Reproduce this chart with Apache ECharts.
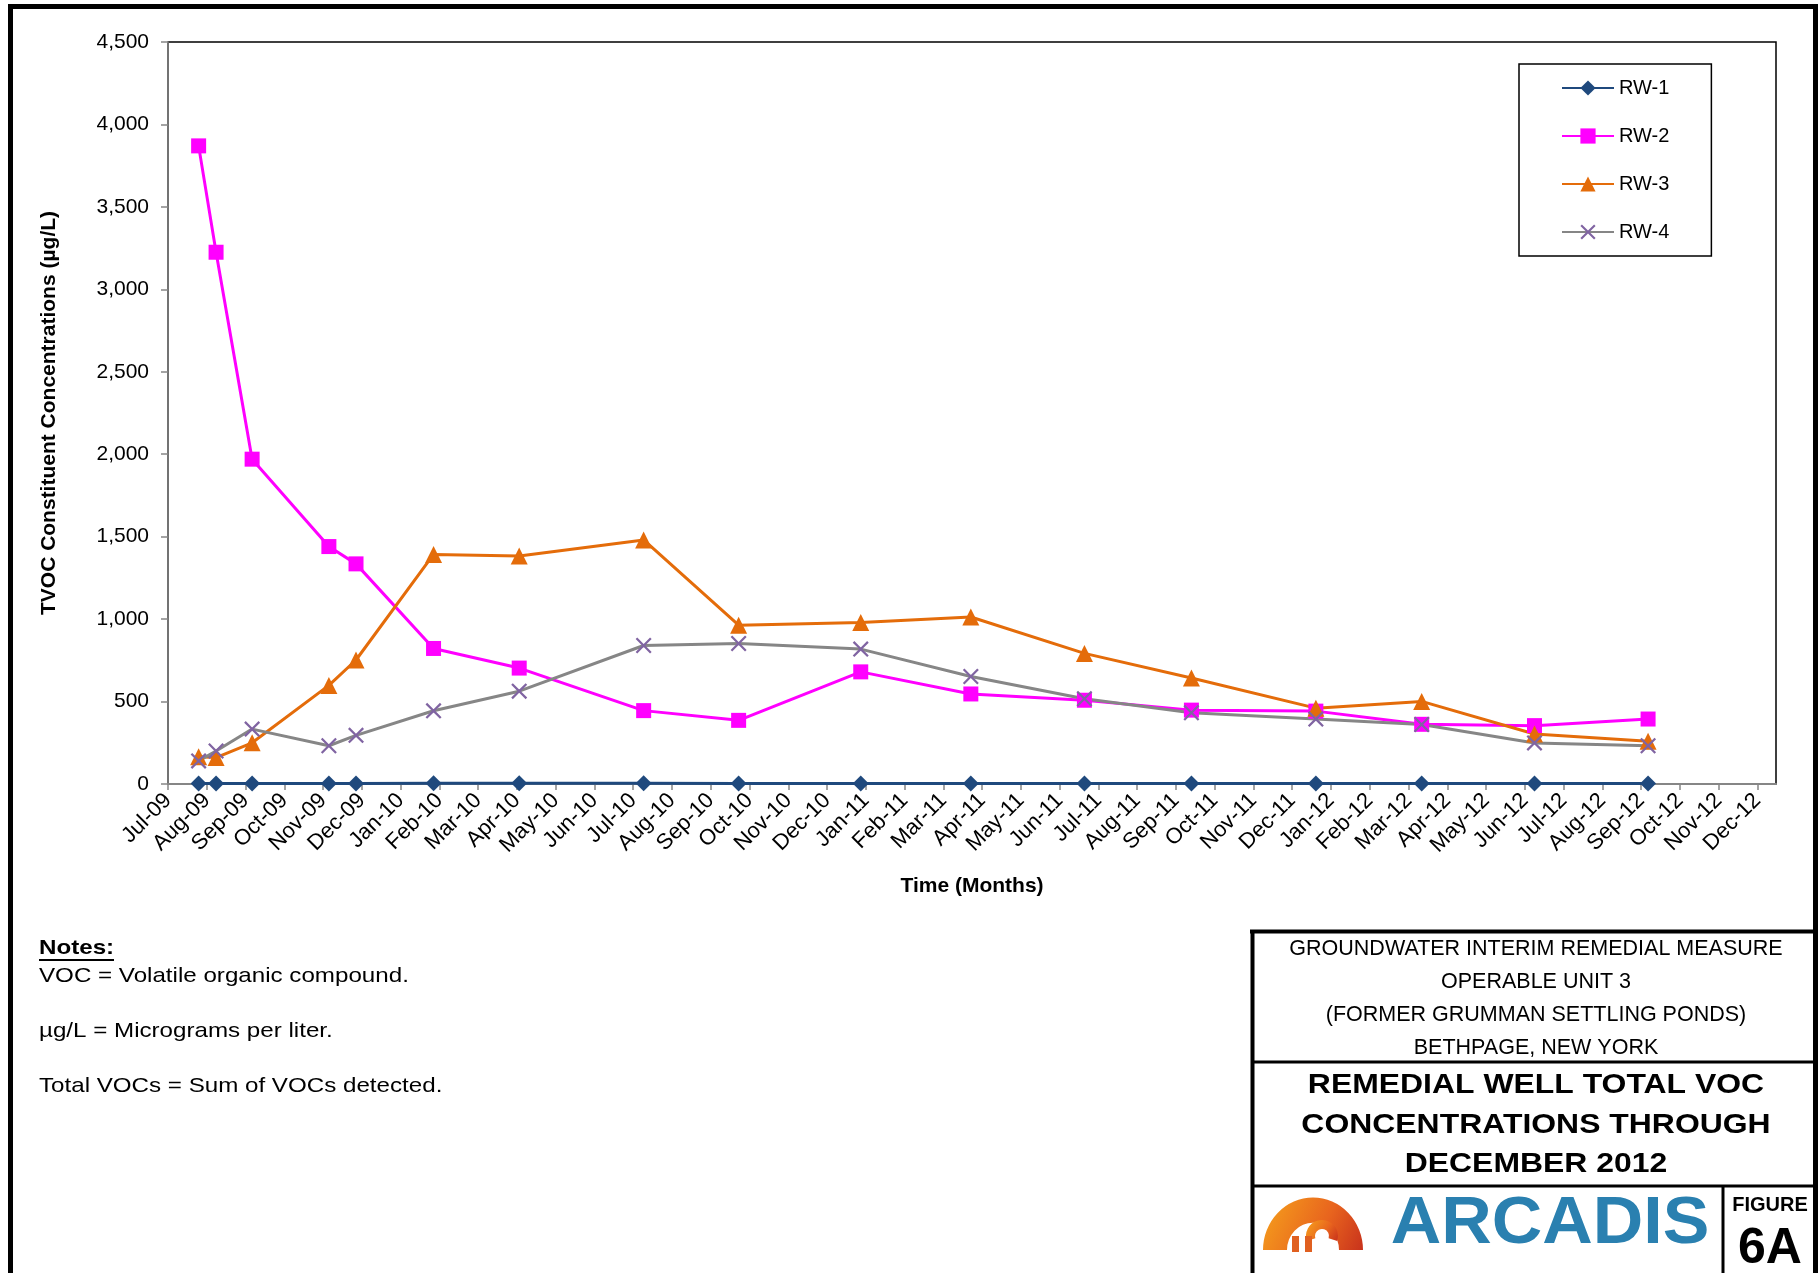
<!DOCTYPE html>
<html>
<head>
<meta charset="utf-8">
<title>Remedial Well Total VOC Concentrations</title>
<script src="https://cdn.jsdelivr.net/npm/echarts@6/dist/echarts.min.js"></script>
<style>
  html, body { margin: 0; padding: 0; background: #fff; }
  #main { width: 1818px; height: 1273px; }
</style>
</head>
<body>
<div id="main"></div>
<script>
var FONT = "'Liberation Sans', Arial, sans-serif";

// month tick labels, Jul-09 = 0
var monthLabels = ['Jul-09','Aug-09','Sep-09','Oct-09','Nov-09','Dec-09',
  'Jan-10','Feb-10','Mar-10','Apr-10','May-10','Jun-10','Jul-10','Aug-10','Sep-10','Oct-10','Nov-10','Dec-10',
  'Jan-11','Feb-11','Mar-11','Apr-11','May-11','Jun-11','Jul-11','Aug-11','Sep-11','Oct-11','Nov-11','Dec-11',
  'Jan-12','Feb-12','Mar-12','Apr-12','May-12','Jun-12','Jul-12','Aug-12','Sep-12','Oct-12','Nov-12','Dec-12'];

// sampling events, in months since Jul-09
var sampleMonth = [0.79, 1.24, 2.17, 4.15, 4.85, 6.85, 9.06, 12.27, 14.72, 17.87, 20.71, 23.64, 26.40, 29.61, 32.34, 35.25, 38.18];

// total VOC, ug/L
var rw1 = [3, 3, 3, 3, 3, 4, 5, 5, 3, 3, 3, 3, 3, 3, 3, 3, 3];
var rw2 = [3870, 3225, 1970, 1440, 1335, 822, 703, 445, 386, 680, 546, 508, 448, 442, 362, 354, 394];
var rw3 = [165, 160, 250, 598, 752, 1392, 1383, 1480, 963, 980, 1013, 792, 643, 460, 501, 303, 259];
var rw4 = [140, 200, 333, 232, 295, 444, 563, 840, 852, 818, 652, 517, 432, 394, 361, 249, 232];

var yMin = 0, yMax = 4500, yStep = 500;
var xMax = 41.48;

function pairs(vals) {
  return vals.map(function (v, i) { return [sampleMonth[i], v]; });
}

var crossPath = 'path://M0,1 L1,0 L5,4 L9,0 L10,1 L6,5 L10,9 L9,10 L5,6 L1,10 L0,9 L4,5 Z';

var chartDom = document.getElementById('main');
var myChart = echarts.init(chartDom);
var option;

function txt(x, y, s, font, align, sx) {
  return {
    type: 'text', x: x, y: y, scaleX: sx || 1, silent: true,
    style: {
      text: s, font: font, fill: '#000',
      textAlign: align || 'center', align: align || 'center',
      textVerticalAlign: 'middle', verticalAlign: 'middle'
    }
  };
}
function hline(x1, x2, y, w) {
  return { type: 'line', silent: true, shape: { x1: x1, y1: y, x2: x2, y2: y }, style: { stroke: '#000', lineWidth: w } };
}
function vline(x, y1, y2, w) {
  return { type: 'line', silent: true, shape: { x1: x, y1: y1, x2: x, y2: y2 }, style: { stroke: '#000', lineWidth: w } };
}

var logoFill = new echarts.graphic.LinearGradient(0, 0, 1, 1, [
  { offset: 0, color: '#F6A21C' },
  { offset: 0.6, color: '#E8641E' },
  { offset: 1, color: '#C8321C' }
]);

option = {
  animation: false,
  backgroundColor: '#fff',
  grid: {
    left: 168, top: 42, width: 1608, height: 742,
    show: true, borderColor: '#000', borderWidth: 1.5, backgroundColor: 'transparent',
    containLabel: false, outerBoundsMode: 'none'
  },
  legend: {
    orient: 'vertical',
    left: 1519, top: 64,
    padding: [14, 42, 14, 42],
    itemWidth: 52, itemHeight: 19, itemGap: 28,
    borderColor: '#000', borderWidth: 1.5,
    textStyle: { fontFamily: FONT, fontSize: 20, color: '#000' },
    data: ['RW-1', 'RW-2', 'RW-3', 'RW-4']
  },
  xAxis: {
    type: 'value',
    min: 0, max: xMax, interval: 1,
    name: 'Time (Months)', nameLocation: 'middle', nameGap: 92,
    nameTextStyle: { fontFamily: FONT, fontSize: 21, fontWeight: 'bold', color: '#000' },
    axisLine: { show: true, onZero: false, lineStyle: { color: '#868686', width: 2 } },
    axisTick: { show: true, length: 6, lineStyle: { color: '#868686', width: 1.5 } },
    splitLine: { show: false },
    axisLabel: {
      rotate: 45, margin: 13, color: '#000', fontFamily: FONT, fontSize: 22,
      showMaxLabel: false,
      formatter: function (v) {
        var i = Math.round(v);
        return Math.abs(v - i) < 1e-6 && monthLabels[i] ? monthLabels[i] : '';
      }
    }
  },
  yAxis: {
    type: 'value',
    min: yMin, max: yMax, interval: yStep,
    name: 'TVOC Constituent Concentrations (\u00b5g/L)', nameLocation: 'middle', nameGap: 108,
    nameTextStyle: { fontFamily: FONT, fontSize: 21, fontWeight: 'bold', color: '#000' },
    axisLine: { show: true, lineStyle: { color: '#868686', width: 1.5 } },
    axisTick: { show: true, length: 7, lineStyle: { color: '#868686', width: 1.5 } },
    splitLine: { show: false },
    axisLabel: {
      margin: 19, color: '#000', fontFamily: FONT, fontSize: 21,
      formatter: function (v) { return v.toLocaleString('en-US'); }
    }
  },
  series: [
    {
      name: 'RW-1', type: 'line', data: pairs(rw1),
      symbol: 'diamond', symbolSize: 16, showSymbol: true,
      itemStyle: { color: '#1F497D' },
      lineStyle: { color: '#1F497D', width: 3 }
    },
    {
      name: 'RW-2', type: 'line', data: pairs(rw2),
      symbol: 'rect', symbolSize: 15, showSymbol: true,
      itemStyle: { color: '#FF00FF' },
      lineStyle: { color: '#FF00FF', width: 3 }
    },
    {
      name: 'RW-3', type: 'line', data: pairs(rw3),
      symbol: 'triangle', symbolSize: 17, showSymbol: true,
      itemStyle: { color: '#E46C0A' },
      lineStyle: { color: '#E46C0A', width: 3 }
    },
    {
      name: 'RW-4', type: 'line', data: pairs(rw4),
      symbol: crossPath, symbolSize: 16, showSymbol: true,
      itemStyle: { color: '#8064A2' },
      lineStyle: { color: '#868686', width: 3 }
    }
  ],
  graphic: [
    // outer frame
    { type: 'rect', silent: true, shape: { x: 10.5, y: 6.5, width: 1805, height: 1300 },
      style: { fill: 'none', stroke: '#000', lineWidth: 5 } },

    // notes
    txt(39, 948, 'Notes:', 'bold 21px ' + FONT, 'left', 1.15),
    hline(39, 114, 960, 2),
    txt(39, 976, 'VOC = Volatile organic compound.', '21px ' + FONT, 'left', 1.15),
    txt(39, 1031, '\u00b5g/L = Micrograms per liter.', '21px ' + FONT, 'left', 1.15),
    txt(39, 1086, 'Total VOCs = Sum of VOCs detected.', '21px ' + FONT, 'left', 1.15),

    // title block
    hline(1250, 1818, 931.5, 4),
    vline(1252.5, 930, 1280, 4),
    hline(1252, 1818, 1062, 3),
    hline(1252, 1818, 1186, 3),
    vline(1723, 1186, 1280, 3),
    txt(1536, 949, 'GROUNDWATER INTERIM REMEDIAL MEASURE', '21.5px ' + FONT),
    txt(1536, 982, 'OPERABLE UNIT 3', '21.5px ' + FONT),
    txt(1536, 1015, '(FORMER GRUMMAN SETTLING PONDS)', '21.5px ' + FONT),
    txt(1536, 1048, 'BETHPAGE, NEW YORK', '21.5px ' + FONT),
    txt(1536, 1085, 'REMEDIAL WELL TOTAL VOC', 'bold 28px ' + FONT, 'center', 1.14),
    txt(1536, 1125, 'CONCENTRATIONS THROUGH', 'bold 28px ' + FONT, 'center', 1.14),
    txt(1536, 1164, 'DECEMBER 2012', 'bold 28px ' + FONT, 'center', 1.14),

    // logo
    { type: 'sector', silent: true, shape: { cx: 1313, cy: 1250, r: 50, r0: 26, startAngle: Math.PI, endAngle: Math.PI * 2 },
      scaleY: 1.05, originX: 1313, originY: 1250, style: { fill: logoFill } },
    { type: 'sector', silent: true, shape: { cx: 1322, cy: 1236, r: 16, r0: 7, startAngle: Math.PI * 0.9, endAngle: Math.PI * 2.1 },
      style: { fill: logoFill } },
    { type: 'rect', silent: true, shape: { x: 1292, y: 1236, width: 7, height: 16 }, style: { fill: '#E06020' } },
    { type: 'rect', silent: true, shape: { x: 1305, y: 1236, width: 7, height: 16 }, style: { fill: '#E06020' } },
    { type: 'text', x: 1550, y: 1225, scaleX: 1.06, silent: true,
      style: { text: 'ARCADIS', font: 'bold 66px ' + FONT, fill: '#2A80B0',
        textAlign: 'center', align: 'center', textVerticalAlign: 'middle', verticalAlign: 'middle' } },

    txt(1770, 1205, 'FIGURE', 'bold 20px ' + FONT),
    txt(1770, 1249, '6A', 'bold 50px ' + FONT)
  ]
};

option && myChart.setOption(option);
</script>
</body>
</html>
